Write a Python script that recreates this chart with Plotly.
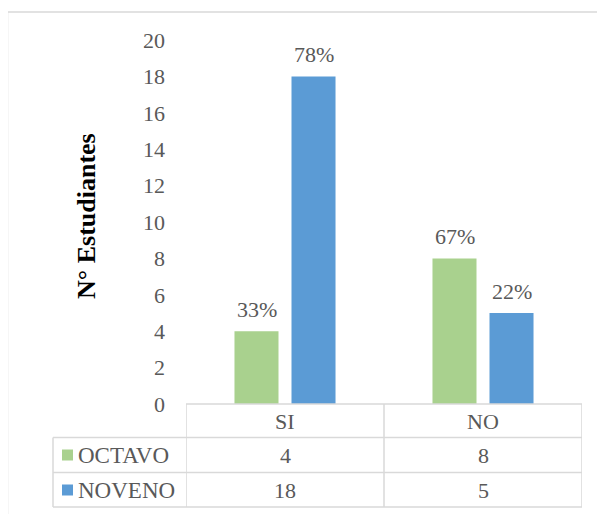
import plotly.graph_objects as go

# Data
categories = ["SI", "NO"]
series_names = ["OCTAVO", "NOVENO"]
octavo = [4, 8]
noveno = [18, 5]
octavo_pct = ["33%", "67%"]
noveno_pct = ["78%", "22%"]
y_ticks = list(range(0, 21, 2))

GREEN = "#A9D18E"
BLUE = "#5B9BD5"
TEXT = "#595959"
LINE = "#D9D9D9"
FONT = "Liberation Serif"

# page body has an 8px margin, so the figure starts at (8, 8) on screen
OFF = 8
W, H = 605 - OFF, 514 - OFF
L, R, T, B = 186 - OFF, 23, 40 - OFF, 110
PW, PH = W - L - R, H - T - B


def px_x(px):
    """Screen pixel x to paper x."""
    return (px - OFF - L) / PW


def px_y(py):
    """Screen pixel y to paper y."""
    return (H - B - (py - OFF)) / PH


fig = go.Figure()
fig.add_trace(go.Bar(x=categories, y=octavo, name=series_names[0],
                     marker={"color": GREEN, "line": {"width": 0}}))
fig.add_trace(go.Bar(x=categories, y=noveno, name=series_names[1],
                     marker={"color": BLUE, "line": {"width": 0}}))

shapes = []
annotations = []
line_style = {"color": LINE, "width": 1.5}

# Outer chart border
shapes.append(dict(type="rect", xref="paper", yref="paper",
                   x0=px_x(7.5), x1=px_x(640), y0=px_y(560), y1=px_y(12),
                   line=line_style))

# Data table lines
shapes.append(dict(type="line", xref="x", yref="paper", x0=-0.5, x1=1.5,
                   y0=px_y(404), y1=px_y(404), line=line_style))
for py in [437.5, 472.5, 507]:
    shapes.append(dict(type="line", xref="paper", yref="paper", x0=px_x(53), x1=1,
                       y0=px_y(py), y1=px_y(py), line=line_style))
for xv in [-0.5, 0.5, 1.5]:
    shapes.append(dict(type="line", xref="x", yref="paper", x0=xv, x1=xv,
                       y0=px_y(404), y1=px_y(507), line=line_style))
shapes.append(dict(type="line", xref="paper", yref="paper", x0=px_x(53), x1=px_x(53),
                   y0=px_y(437.5), y1=px_y(507), line=line_style))

cell_font = {"family": FONT, "size": 22, "color": TEXT}
label_font = {"family": FONT, "size": 23, "color": TEXT}

# Header (categories)
for c in categories:
    annotations.append(dict(x=c, xref="x", y=px_y(421), yref="paper", text=c,
                            xanchor="center", yanchor="middle",
                            showarrow=False, font=cell_font))

# Rows with legend keys
row_centers = [455, 490]
for name, vals, color, cy in zip(series_names, [octavo, noveno], [GREEN, BLUE], row_centers):
    shapes.append(dict(type="rect", xref="paper", yref="paper",
                       x0=px_x(62), x1=px_x(73), y0=px_y(cy + 5.5), y1=px_y(cy - 5.5),
                       fillcolor=color, line={"width": 0}))
    annotations.append(dict(x=px_x(76), xref="paper", y=px_y(cy), yref="paper", text=name,
                            xanchor="left", yanchor="middle", showarrow=False, font=label_font))
    for c, v in zip(categories, vals):
        annotations.append(dict(x=c, xref="x", y=px_y(cy), yref="paper", text=str(v),
                                xanchor="center", yanchor="middle",
                                showarrow=False, font=cell_font))

# Percentage labels above bars
for vals, pcts, shift in [(octavo, octavo_pct, -28.5), (noveno, noveno_pct, 28.5)]:
    for c, v, p in zip(categories, vals, pcts):
        annotations.append(dict(x=c, xref="x", y=v, yref="y", text=p, xshift=shift,
                                xanchor="center", yanchor="bottom", yshift=7,
                                showarrow=False, font=cell_font))

# Y axis title
annotations.append(dict(x=px_x(87), xref="paper", y=px_y(216), yref="paper",
                        text="<b>N° Estudiantes</b>", textangle=-90, showarrow=False,
                        xanchor="center", yanchor="middle",
                        font={"family": FONT, "size": 26, "color": "#000000"}))

fig.update_layout(
    width=W, height=H,
    margin={"l": L, "r": R, "t": T, "b": B, "autoexpand": False},
    paper_bgcolor="white",
    plot_bgcolor="white",
    barmode="group",
    bargap=0.424,
    bargroupgap=0.228,
    showlegend=False,
    shapes=shapes,
    annotations=annotations,
    xaxis={"showticklabels": False, "showgrid": False, "zeroline": False,
           "showline": False, "ticks": "", "range": [-0.5, 1.5]},
    yaxis={"range": [0, 20], "tickvals": y_ticks, "showgrid": False, "zeroline": False,
           "showline": False, "ticks": "", "ticklabelstandoff": 20,
           "tickfont": {"family": FONT, "size": 22, "color": TEXT}},
)

fig.write_html("out.html")
